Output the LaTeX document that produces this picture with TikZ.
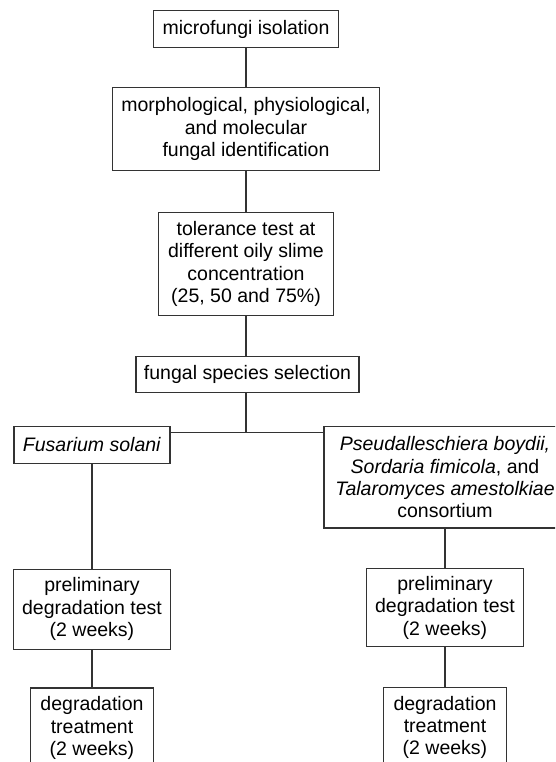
\documentclass[tikz,border=0pt]{standalone}
\usepackage{fontspec}
\setmainfont{Liberation Sans}
\usepackage{tikz}
\tikzstyle{every node}=[draw=black!80,line width=1.1pt,align=center,inner sep=0pt,font=\fontsize{19.5}{22.4}\selectfont]
\tikzstyle{link}=[draw=black!80,line width=1.1pt]

\begin{document}
\begin{tikzpicture}[x=1pt,y=-1pt]
\useasboundingbox (0,0) rectangle (555,762);
\fill[white] (0,0) rectangle (555,762);
\clip (0,0) rectangle (555,762);
\node[minimum width=184.4pt,minimum height=36.6pt] (isolation) at (246,29) {microfungi isolation};
\node[minimum width=267.3pt,minimum height=83.2pt] (identification) at (246,129) {morphological, physiological,\\ and molecular\\ fungal identification};
\node[minimum width=174.4pt,minimum height=103.7pt] (tolerance) at (246,264) {tolerance test at\\ different oily slime\\ concentration\\ (25, 50 and 75\%)};
\node[minimum width=223pt,minimum height=35.8pt] (selection) at (247.5,374.6) {fungal species selection};
\node[minimum width=156pt,minimum height=36.6pt] (solani) at (92,445) {\textit{Fusarium solani}};
\node[minimum width=242pt,minimum height=101.3pt] (consortium) at (445,477.3) {\textit{Pseudalleschiera boydii,}\\ \textit{Sordaria fimicola}, and\\ \textit{Talaromyces amestolkiae}\\ consortium};
\node[minimum width=157.5pt,minimum height=80pt] (prelimA) at (92,609.3) {preliminary\\ degradation test\\ (2 weeks)};
\node[minimum width=157.7pt,minimum height=78pt] (prelimB) at (445,607.7) {preliminary\\ degradation test\\ (2 weeks)};
\node[minimum width=122.6pt,minimum height=80pt] (treatA) at (92,728) {degradation\\ treatment\\ (2 weeks)};
\node[minimum width=122.7pt,minimum height=80pt] (treatB) at (445,727.5) {degradation\\ treatment\\ (2 weeks)};
\coordinate (split) at (246,432.7);
\draw[link] (isolation.south -| split) -- (identification.north -| split);
\draw[link] (identification.south -| split) -- (tolerance.north -| split);
\draw[link] (tolerance.south -| split) -- (selection.north -| split);
\draw[link] (selection.south -| split) -- (split);
\draw[link] (solani.east |- split) -- (consortium.west |- split);
\draw[link] (solani) -- (prelimA);
\draw[link] (prelimA) -- (treatA);
\draw[link] (consortium) -- (prelimB);
\draw[link] (prelimB) -- (treatB);
\end{tikzpicture}
\end{document}
